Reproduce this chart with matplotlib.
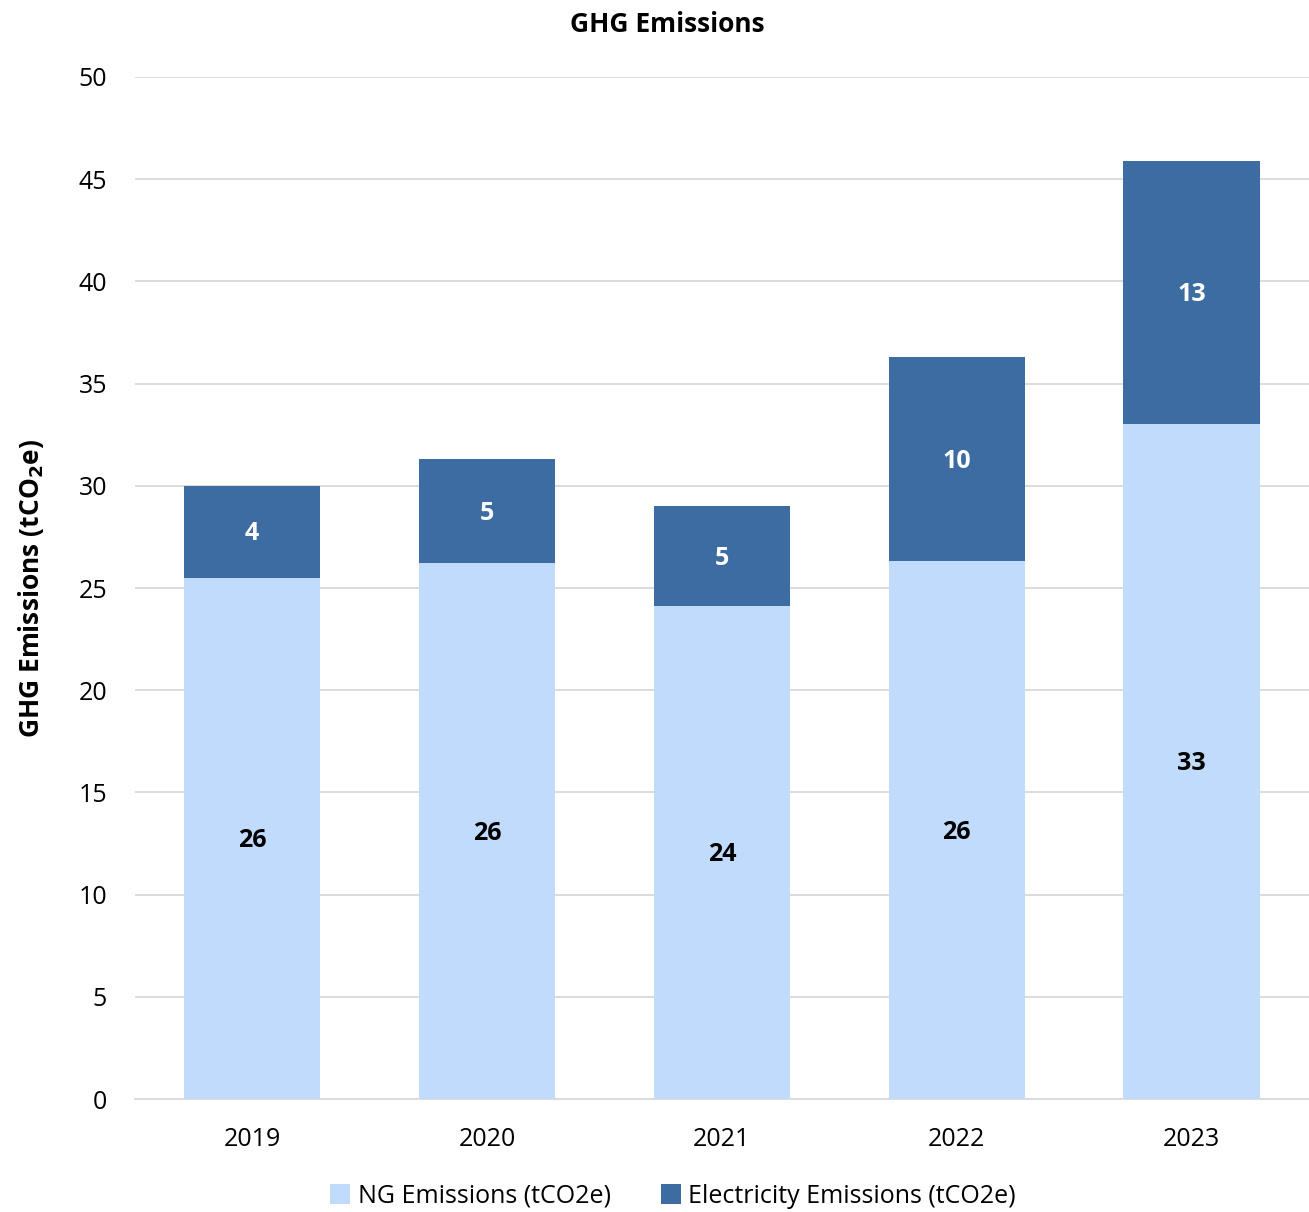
import matplotlib.pyplot as plt

plt.rcParams['font.family'] = ['Open Sans', 'DejaVu Sans']

# Data
years = ['2019', '2020', '2021', '2022', '2023']
ng_emissions = [25.5, 26.2, 24.1, 26.3, 33.0]
elec_emissions = [4.5, 5.1, 4.9, 10.0, 12.9]

ng_color = '#C1DBFD'
elec_color = '#3D6CA3'

fig = plt.figure(figsize=(13.09, 12.12), dpi=100)
ax = fig.add_axes([0.103, 0.0932, 0.897, 0.8433])

x = range(len(years))
bars_ng = ax.bar(x, ng_emissions, width=0.58, color=ng_color,
                 label='NG Emissions (tCO2e)', zorder=3)
bars_el = ax.bar(x, elec_emissions, width=0.58, bottom=ng_emissions,
                 color=elec_color, label='Electricity Emissions (tCO2e)', zorder=3)

# Value labels in the middle of each segment
for i in x:
    ax.text(i, ng_emissions[i] / 2 - 0.1, f'{ng_emissions[i]:.0f}', ha='center', va='center',
            fontsize=18, fontweight='bold', color='black', zorder=4)
    ax.text(i, ng_emissions[i] + elec_emissions[i] / 2 - 0.1, f'{elec_emissions[i]:.0f}',
            ha='center', va='center', fontsize=18, fontweight='bold', color='white', zorder=4)

ax.set_xlim(-0.5, 4.5)
ax.set_ylim(0, 50)
ax.set_yticks(range(0, 51, 5))
ax.set_xticks(list(x))
ax.set_xticklabels(years)
ax.tick_params(axis='both', length=0, labelsize=18)
ax.tick_params(axis='x', pad=20)
ax.tick_params(axis='y', pad=20)
ax.grid(axis='y', color='#D9D9D9', linewidth=1.3, zorder=0)
for s in ['top', 'right', 'left']:
    ax.spines[s].set_visible(False)
ax.spines['bottom'].set_color('#D9D9D9')
ax.spines['bottom'].set_linewidth(1.3)

ax.set_ylabel(r'GHG Emissions (tCO$_\mathbf{2}$e)', fontsize=19, fontweight='bold', labelpad=23)
fig.text(0.51, 0.98, 'GHG Emissions', ha='center', va='center', fontsize=19, fontweight='bold')

fig.legend(loc='center', bbox_to_anchor=(0.514, 0.013), ncol=2, frameon=False,
           fontsize=18, handlelength=0.8, handleheight=0.8, handletextpad=0.3,
           columnspacing=2.0)

fig.savefig('out.png', dpi=100)
